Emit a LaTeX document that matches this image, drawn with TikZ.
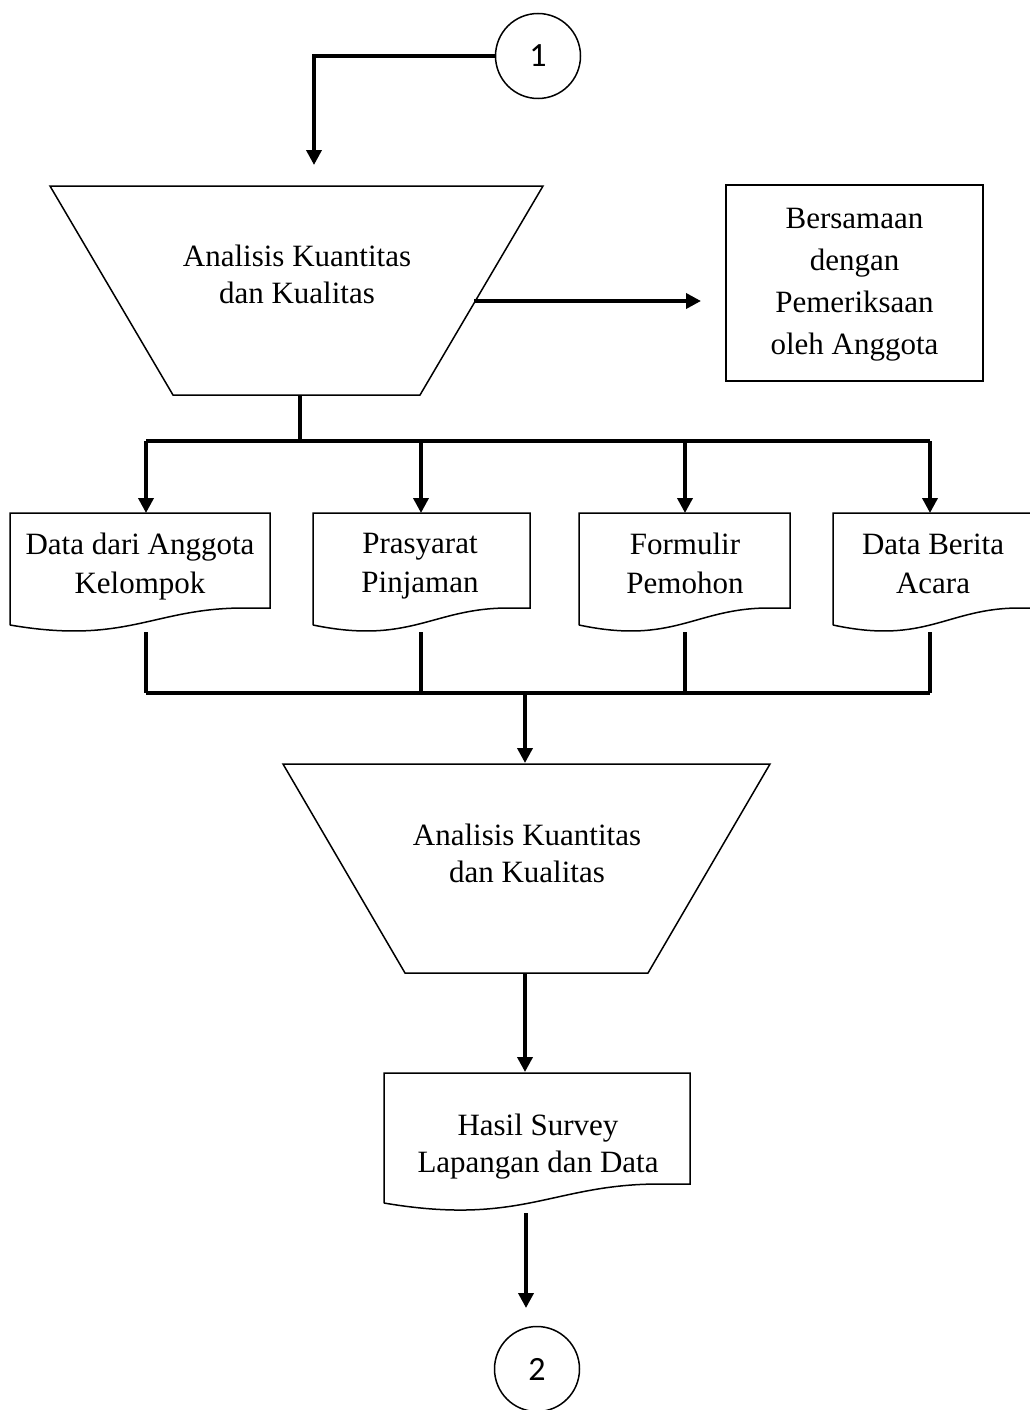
\documentclass[tikz,border=0pt]{standalone}
\usepackage{fontspec}
\setmainfont{Liberation Serif}
\newfontfamily\numfont{Carlito}
\usetikzlibrary{arrows.meta}

% document symbol: left, right, top, left height, right height
\newcommand\flowdoc[5]{%
  \draw[outline] ({#1},{#3+#4}) -- ({#1},{#3}) -- ({#2},{#3}) -- ({#2},{#3+#5})
    -- ({#1+0.9*(#2-#1)},{#3+#5})
    .. controls ({#1+0.55*(#2-#1)},{#3+#5}) and ({#1+0.45*(#2-#1)},{#3+1.18*#4}) ..
    ({#1},{#3+#4});}

\begin{document}
\begin{tikzpicture}[x=1pt,y=-1pt,
  outline/.style={draw=black,line width=1.5pt,line join=miter},
  conn/.style={draw=black,line width=3.6pt},
  arr/.style={conn,-{Triangle[length=15pt,width=15pt]}},
  txt/.style={inner sep=0pt,align=center,font=\fontsize{31}{37}\selectfont,
    execute at begin node=\strut,execute at end node=\strut},
  doctxt/.style={txt,font=\fontsize{31}{39}\selectfont},
  conntxt/.style={circle,draw=black,line width=1.5pt,minimum size=85pt,inner sep=0pt,
    font=\numfont\fontsize{34}{34}\selectfont}]
\useasboundingbox[fill=white] (0,0) rectangle (1029,1410);

% ---- connector 1 and first analysis step
\node[conntxt] (c1) at (538,56) {1};
\coordinate (in1) at (314,165);
\draw[arr] (c1.west) -| (in1);

\coordinate (t1tl) at (50,186);
\coordinate (t1tr) at (543,186);
\coordinate (t1br) at (420,395);
\coordinate (t1bl) at (173,395);
\draw[outline] (t1tl) -- (t1tr) -- (t1br) -- (t1bl) -- cycle;
\node[txt] (t1) at (297,280) {Analisis Kuantitas\\dan Kualitas};

% ---- side note
\coordinate (notebox) at (854.5,283);
\draw[outline] (726,185) rectangle (983,381);
\node[inner sep=0pt,align=center,font=\fontsize{31}{42}\selectfont,
  execute at begin node=\strut,execute at end node=\strut] (note) at (854.5,287.5)
  {Bersamaan\\dengan\\Pemeriksaan\\oleh Anggota};
\coordinate (t1side) at (474,301);
\coordinate (notein) at (701,301);
\draw[arr] (t1side) -- (notein);

% ---- distribution bus
\coordinate (t1out) at (300,395);
\coordinate (j1) at (300,441);
\coordinate (b1a) at (146,441);
\coordinate (b1b) at (421,441);
\coordinate (b1c) at (685,441);
\coordinate (b1d) at (930,441);
\draw[conn] (t1out) -- (j1);
\draw[conn] (b1a) -- (b1d);
\coordinate (d1in) at (146,513);
\coordinate (d2in) at (421,513);
\coordinate (d3in) at (685,513);
\coordinate (d4in) at (930,513);
\draw[arr] (b1a) -- (d1in);
\draw[arr] (b1b) -- (d2in);
\draw[arr] (b1c) -- (d3in);
\draw[arr] (b1d) -- (d4in);

% ---- documents
\flowdoc{10}{270}{513}{112}{95}
\flowdoc{313}{530}{513}{112}{95}
\flowdoc{579}{790}{513}{112}{95}
\flowdoc{833}{1040}{513}{112}{95}
\node[doctxt] (d1) at (140,569) {Data dari Anggota\\Kelompok};
\node[doctxt] (d2) at (420,569) {Prasyarat\\Pinjaman};
\node[doctxt] (d3) at (685,569) {Formulir\\Pemohon};
\node[doctxt] (d4) at (933,569.5) {Data Berita\\Acara};

% ---- collecting bus
\coordinate (d1out) at (146,632);
\coordinate (d2out) at (421,632);
\coordinate (d3out) at (685,632);
\coordinate (d4out) at (930,632);
\coordinate (b2a) at (146,693);
\coordinate (b2b) at (421,693);
\coordinate (b2c) at (685,693);
\coordinate (b2d) at (930,693);
\coordinate (j2) at (525,693);
\draw[conn] (d1out) -- (b2a);
\draw[conn] (d2out) -- (b2b);
\draw[conn] (d3out) -- (b2c);
\draw[conn] (d4out) -- (b2d);
\draw[conn] (b2a) -- (b2d);
\coordinate (t2in) at (525,763);
\draw[arr] (j2) -- (t2in);

% ---- second analysis step
\coordinate (t2tl) at (283,764);
\coordinate (t2tr) at (770,764);
\coordinate (t2br) at (648,973);
\coordinate (t2bl) at (405,973);
\draw[outline] (t2tl) -- (t2tr) -- (t2br) -- (t2bl) -- cycle;
\node[txt] (t2) at (527,859) {Analisis Kuantitas\\dan Kualitas};

% ---- survey result
\coordinate (t2out) at (525,973);
\coordinate (hin) at (525,1072);
\draw[arr] (t2out) -- (hin);
\flowdoc{384}{690}{1073}{130}{111}
\node[txt] (h) at (538,1149) {Hasil Survey\\Lapangan dan Data};

% ---- connector 2
\coordinate (hout) at (526,1213);
\coordinate (c2in) at (526,1308);
\draw[arr] (hout) -- (c2in);
\node[conntxt] (c2) at (537,1369) {2};
\end{tikzpicture}
\end{document}
